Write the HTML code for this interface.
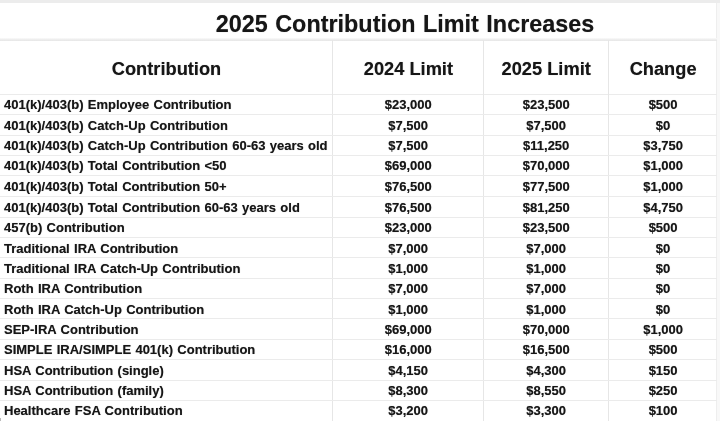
<!DOCTYPE html>
<html><head><meta charset="utf-8"><title>2025 Contribution Limit Increases</title>
<style>
html,body{margin:0;padding:0;background:#fff;}
body{width:720px;height:421px;overflow:hidden;position:relative;font-family:"Liberation Sans",Arial,sans-serif;color:#161616;font-weight:bold;text-shadow:0 0 0.7px rgba(20,20,20,0.55);}
.top{position:absolute;left:0;top:0;width:720px;height:3px;background:#ececec;}
.hl{position:absolute;left:0;width:717px;height:1px;background:#ebebeb;}
.vl{position:absolute;top:40px;width:1px;height:381px;background:#e6e6e6;}
.title{position:absolute;left:205px;width:400px;top:8.7px;height:30px;line-height:30px;transform:scaleY(1.003);text-align:center;font-size:23.4px;word-spacing:1px;white-space:nowrap;}
.h{position:absolute;top:58.3px;height:22px;line-height:22px;font-size:18.25px;text-align:center;white-space:nowrap;}
.r{position:absolute;left:0;width:720px;height:20px;line-height:20px;font-size:13.0px;word-spacing:0.7px;}
.r span{position:absolute;top:0;text-align:center;white-space:nowrap;}
.c1{left:4px;text-align:left !important;}
.c2{left:333.2px;width:150px;}
.c3{left:471.2px;width:150px;}
.c4{left:608.1px;width:110px;}
</style></head><body>
<div class="top"></div>
<div style="position:absolute;left:717px;top:3px;width:3px;height:418px;background:#f8f8f8"></div>
<div style="position:absolute;left:716px;top:3px;width:1px;height:418px;background:#eeeeee"></div>
<div style="position:absolute;left:0;top:418px;width:1px;height:3px;background:#bbb"></div>
<div class="title">2025 Contribution Limit Increases</div>
<div class="hl" style="top:38px;height:3px;background:linear-gradient(#fbfbfb,#f0f0f0 40%,#e6e6e6)"></div>
<div class="hl" style="top:94px"></div>
<div class="vl" style="left:332px"></div>
<div class="vl" style="left:483px"></div>
<div class="vl" style="left:608px"></div>
<div class="h" style="left:0;width:333px">Contribution</div>
<div class="h" style="left:333.4px;width:150px">2024 Limit</div>
<div class="h" style="left:471.2px;width:150px">2025 Limit</div>
<div class="h" style="left:608.1px;width:110px">Change</div>

<div class="r" style="top:95.0px"><span class="c1">401(k)/403(b) Employee Contribution</span><span class="c2">$23,000</span><span class="c3">$23,500</span><span class="c4">$500</span></div>
<div class="hl" style="top:114px"></div>
<div class="r" style="top:116.0px"><span class="c1">401(k)/403(b) Catch-Up Contribution</span><span class="c2">$7,500</span><span class="c3">$7,500</span><span class="c4">$0</span></div>
<div class="hl" style="top:135px"></div>
<div class="r" style="top:136.0px"><span class="c1">401(k)/403(b) Catch-Up Contribution 60-63 years old</span><span class="c2">$7,500</span><span class="c3">$11,250</span><span class="c4">$3,750</span></div>
<div class="hl" style="top:155px"></div>
<div class="r" style="top:156.0px"><span class="c1">401(k)/403(b) Total Contribution &lt;50</span><span class="c2">$69,000</span><span class="c3">$70,000</span><span class="c4">$1,000</span></div>
<div class="hl" style="top:175px"></div>
<div class="r" style="top:177.0px"><span class="c1">401(k)/403(b) Total Contribution 50+</span><span class="c2">$76,500</span><span class="c3">$77,500</span><span class="c4">$1,000</span></div>
<div class="hl" style="top:196px"></div>
<div class="r" style="top:198.0px"><span class="c1">401(k)/403(b) Total Contribution 60-63 years old</span><span class="c2">$76,500</span><span class="c3">$81,250</span><span class="c4">$4,750</span></div>
<div class="hl" style="top:217px"></div>
<div class="r" style="top:218.0px"><span class="c1">457(b) Contribution</span><span class="c2">$23,000</span><span class="c3">$23,500</span><span class="c4">$500</span></div>
<div class="hl" style="top:237px"></div>
<div class="r" style="top:239.0px"><span class="c1">Traditional IRA Contribution</span><span class="c2">$7,000</span><span class="c3">$7,000</span><span class="c4">$0</span></div>
<div class="hl" style="top:257px"></div>
<div class="r" style="top:259.0px"><span class="c1">Traditional IRA Catch-Up Contribution</span><span class="c2">$1,000</span><span class="c3">$1,000</span><span class="c4">$0</span></div>
<div class="hl" style="top:278px"></div>
<div class="r" style="top:279.0px"><span class="c1">Roth IRA Contribution</span><span class="c2">$7,000</span><span class="c3">$7,000</span><span class="c4">$0</span></div>
<div class="hl" style="top:298px"></div>
<div class="r" style="top:300.0px"><span class="c1">Roth IRA Catch-Up Contribution</span><span class="c2">$1,000</span><span class="c3">$1,000</span><span class="c4">$0</span></div>
<div class="hl" style="top:318px"></div>
<div class="r" style="top:320.0px"><span class="c1">SEP-IRA Contribution</span><span class="c2">$69,000</span><span class="c3">$70,000</span><span class="c4">$1,000</span></div>
<div class="hl" style="top:339px"></div>
<div class="r" style="top:340.0px"><span class="c1">SIMPLE IRA/SIMPLE 401(k) Contribution</span><span class="c2">$16,000</span><span class="c3">$16,500</span><span class="c4">$500</span></div>
<div class="hl" style="top:359px"></div>
<div class="r" style="top:361.0px"><span class="c1">HSA Contribution (single)</span><span class="c2">$4,150</span><span class="c3">$4,300</span><span class="c4">$150</span></div>
<div class="hl" style="top:380px"></div>
<div class="r" style="top:381.0px"><span class="c1">HSA Contribution (family)</span><span class="c2">$8,300</span><span class="c3">$8,550</span><span class="c4">$250</span></div>
<div class="hl" style="top:400px"></div>
<div class="r" style="top:401.0px"><span class="c1">Healthcare FSA Contribution</span><span class="c2">$3,200</span><span class="c3">$3,300</span><span class="c4">$100</span></div>
</body></html>
